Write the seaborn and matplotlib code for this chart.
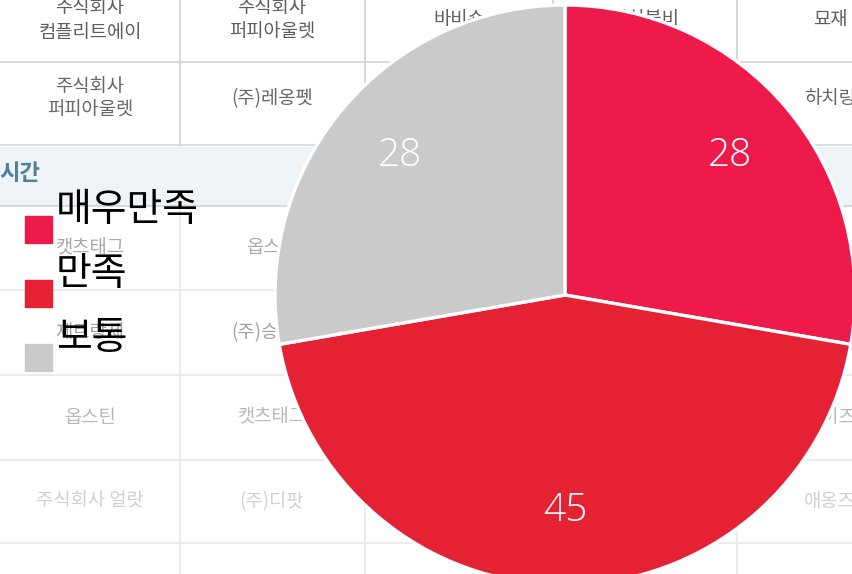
import matplotlib
matplotlib.use("Agg")
import matplotlib.pyplot as plt
import seaborn as sns
from matplotlib.patches import Rectangle

# chart data
labels = ['매우만족', '만족', '보통']
values = [28, 45, 28]
colors = ['#ED1A4A', '#E42233', '#CACACA']

# faded page table behind the chart (text per row, per column)
row_texts = [
    ['주식회사\n컴플리트에이', '주식회사\n퍼피아울렛', '바비숀', '하치블비', '묘재'],
    ['주식회사\n퍼피아울렛', '(주)레옹펫', '', '', '하치링'],
    ['캣츠태그', '옵스틴', '', '', ''],
    ['제트랑제', '(주)승승펫', '', '', ''],
    ['옵스틴', '캣츠태그', '', '', '듀이즈'],
    ['주식회사 얼랏', '(주)디팟', '', '', '애옹즈'],
]
row_colors = ['#5e5e5e', '#666666', '#a8a8a8', '#a0a0a0', '#b8b8b8', '#d0d0d0']

sns.set_theme(style='white')
plt.rcParams['font.family'] = ['Noto Sans CJK KR', 'DejaVu Sans']

fig = plt.figure(figsize=(8.53, 5.74), dpi=100)

# background page, pixel coordinates
bg = fig.add_axes([0, 0, 1, 1])
bg.set_xlim(0, 853)
bg.set_ylim(574, 0)
bg.axis('off')

row_tops = [-30, 62, 206, 290, 375, 460]
row_bots = [62, 145, 290, 375, 460, 543]
col_edges = [0, 180, 365, 553, 737, 920]
col_mid = [90, 272, 459, 645, 830]

bg.add_patch(Rectangle((0, 147), 853, 59, color='#EEF3F8', zorder=0))
bg.text(-1, 173, '시간', fontsize=16, fontweight='bold', color='#4E8099', va='center')

for y in [62, 145, 206, 290, 375, 460, 543]:
    c = '#d4d4d4' if y <= 206 else '#e6e6e6'
    bg.plot([0, 853], [y, y], color=c, lw=1.2, zorder=1)
for x in col_edges[1:-1]:
    bg.plot([x, x], [0, 145], color='#d0d0d0', lw=1.2, zorder=1)
    bg.plot([x, x], [206, 574], color='#e8e8e8', lw=1.2, zorder=1)

for r, texts in enumerate(row_texts):
    ymid = (row_tops[r] + row_bots[r]) / 2 + (4 if r == 0 else -5 if r == 1 else 0)
    for c, t in enumerate(texts):
        if t:
            bg.text(col_mid[c], ymid, t, fontsize=13.5, color=row_colors[r],
                    ha='center', va='center', linespacing=1.2)

# legend, drawn on the page
for i, (lab, col) in enumerate(zip(labels, colors)):
    top = 216 + i * 64
    bg.add_patch(Rectangle((25, top), 27, 27, color=col, zorder=5))
    bg.text(56, top + 13.5 - 20, lab, fontsize=28, color='black',
            va='center', ha='left', zorder=6)

# pie: centre (565, 295) px, radius 290 px
W, H = 853, 574
R = 290
pax = fig.add_axes([(565 - R) / W, (H - 295 - R) / H, 2 * R / W, 2 * R / H])
total = sum(values)
wedges, _, autotexts = pax.pie(
    values, colors=colors, startangle=90, counterclock=False,
    autopct=lambda p: f'{round(p * total / 100)}', pctdistance=0.745,
    wedgeprops={'edgecolor': 'white', 'linewidth': 2.4},
    textprops={'color': 'white', 'fontsize': 28, 'fontweight': 'light',
               'family': ['Open Sans', 'DejaVu Sans']})
for w in wedges:
    w.set_clip_on(False)
pax.set_xlim(-1, 1)
pax.set_ylim(-1, 1)
pax.set_aspect('equal')
pax.axis('off')

fig.savefig('out.png', dpi=100)
